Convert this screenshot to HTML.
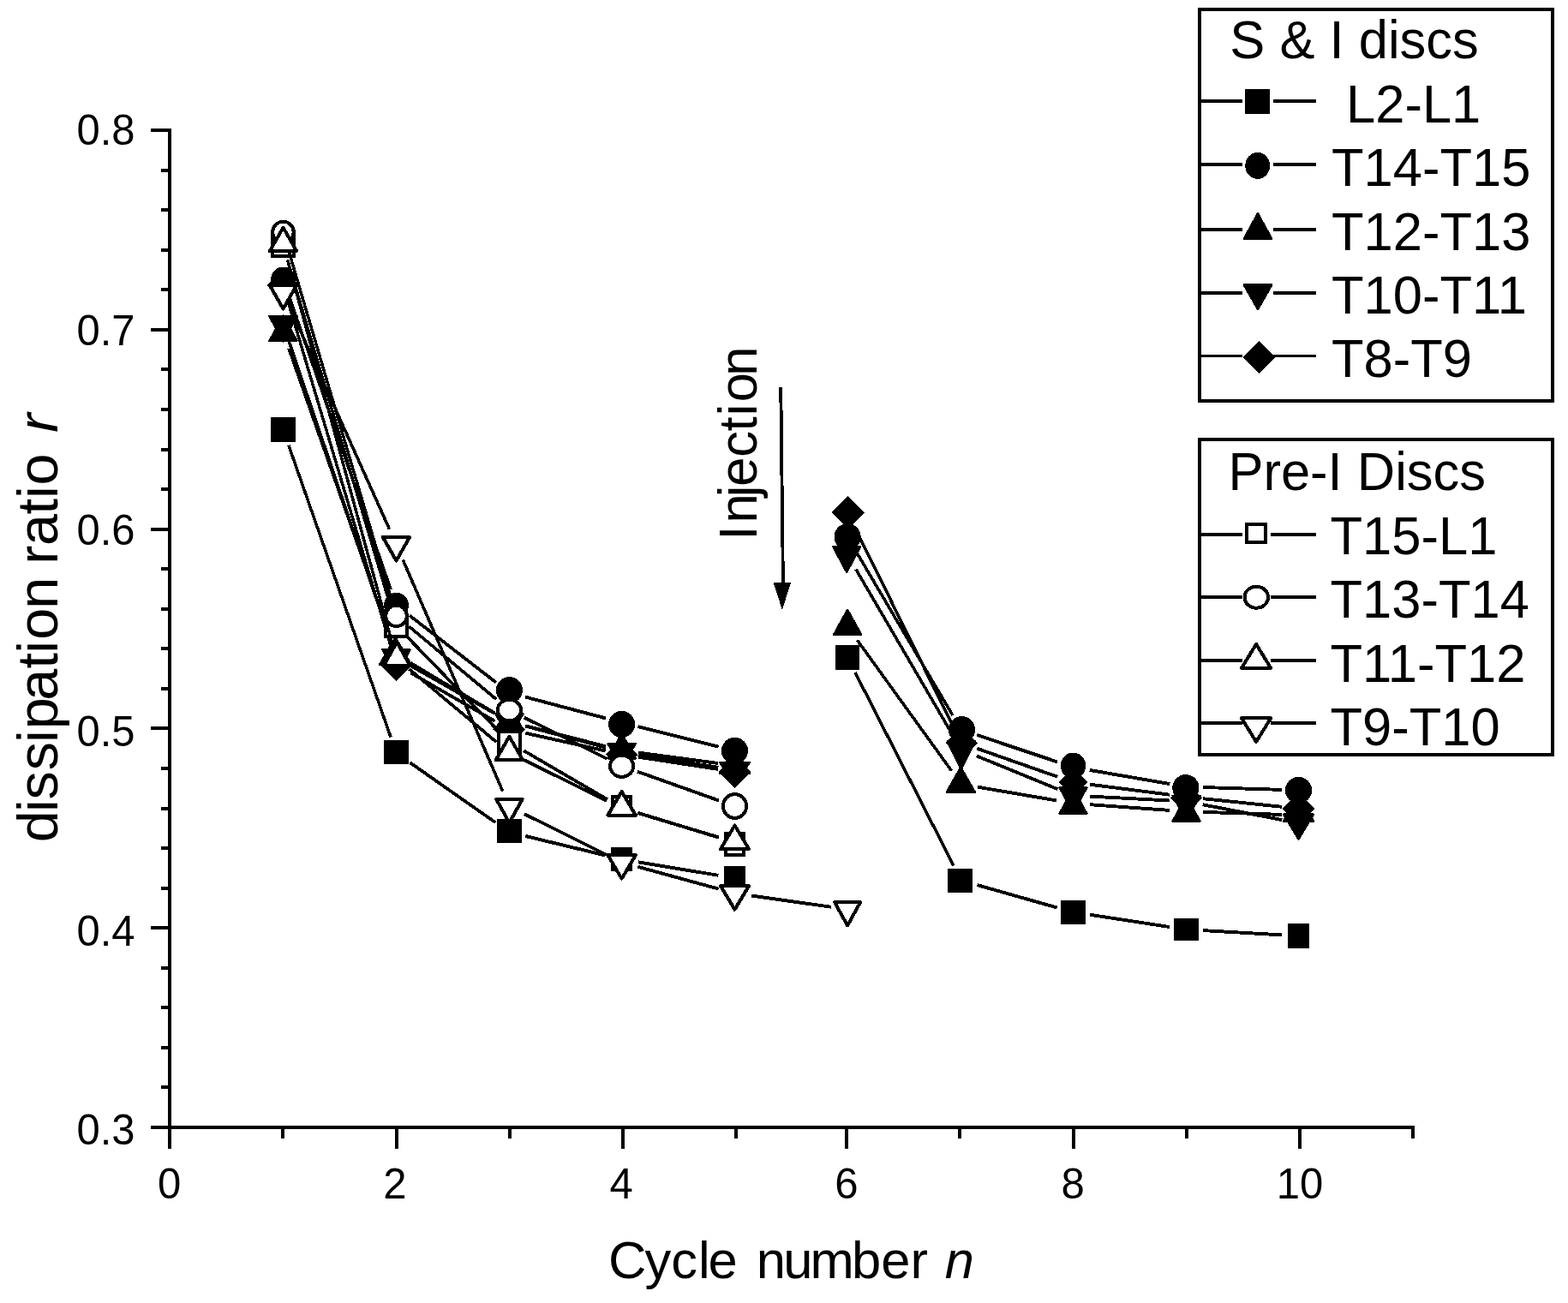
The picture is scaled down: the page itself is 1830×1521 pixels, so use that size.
<!DOCTYPE html>
<html lang="en"><head><meta charset="utf-8"><title>Dissipation ratio versus cycle number</title>
<style>
html,body{margin:0;padding:0;background:#fff}
svg{display:block}
text{font-family:"Liberation Sans",sans-serif;fill:#000}
.ax{stroke:#000;stroke-width:4;fill:none;stroke-linecap:butt}
.ln{stroke:#000;fill:none;stroke-linecap:butt}
.m{fill:#000;stroke:none}
.m .o{fill:#fff;stroke:#000;stroke-width:4}
.m .t{stroke-linejoin:round}
.m .r{stroke:#000;stroke-width:2.4;stroke-linejoin:round}
.tk{font-size:49px}
.lg{font-size:61.5px}
.box{fill:#fff;stroke:#000;stroke-width:4.2}
i,.it{font-style:italic}
</style></head><body>
<svg width="1830" height="1521" viewBox="0 0 1830 1521" shape-rendering="crispEdges" role="img" aria-label="Dissipation ratio r versus cycle number n">
<rect width="1830" height="1521" fill="#fff"/>
<path class="ax" d="M198 150V1341M176 1316H1651M188 1269.4H198M188 1222.9H198M188 1176.3H198M188 1129.8H198M176 1083.2H198M188 1036.6H198M188 990.1H198M188 943.5H198M188 897H198M176 850.4H198M188 803.8H198M188 757.3H198M188 710.7H198M188 664.2H198M176 617.6H198M188 571H198M188 524.5H198M188 477.9H198M188 431.4H198M176 384.8H198M188 338.2H198M188 291.7H198M188 245.1H198M188 198.6H198M176 152H198M329.9 1316V1329M462.6 1316V1341M594.9 1316V1329M726.8 1316V1341M858.7 1316V1329M987.7 1316V1341M1120.1 1316V1329M1253.2 1316V1341M1384.7 1316V1329M1517 1316V1341M1648.9 1316V1329"/>
<g class="tk">
<text x="157.5" y="1336.3" font-size="50.2" textLength="68.1" lengthAdjust="spacingAndGlyphs" text-anchor="end">0.3</text>
<text x="157.5" y="1103.5" font-size="50.2" textLength="68.1" lengthAdjust="spacingAndGlyphs" text-anchor="end">0.4</text>
<text x="157.5" y="870.7" font-size="50.2" textLength="68.1" lengthAdjust="spacingAndGlyphs" text-anchor="end">0.5</text>
<text x="157.5" y="636.4" font-size="50.2" textLength="68.1" lengthAdjust="spacingAndGlyphs" text-anchor="end">0.6</text>
<text x="157.5" y="402.6" font-size="50.2" textLength="68.1" lengthAdjust="spacingAndGlyphs" text-anchor="end">0.7</text>
<text x="157.5" y="169.3" font-size="50.2" textLength="68.1" lengthAdjust="spacingAndGlyphs" text-anchor="end">0.8</text>
</g>
<g class="tk">
<text x="197.7" y="1398.7" font-size="50.2" textLength="27.3" lengthAdjust="spacingAndGlyphs" text-anchor="middle">0</text>
<text x="460.8" y="1398.7" font-size="50.2" textLength="27.3" lengthAdjust="spacingAndGlyphs" text-anchor="middle">2</text>
<text x="725.1" y="1398.7" font-size="50.2" textLength="27.3" lengthAdjust="spacingAndGlyphs" text-anchor="middle">4</text>
<text x="987.9" y="1398.7" font-size="50.2" textLength="27.3" lengthAdjust="spacingAndGlyphs" text-anchor="middle">6</text>
<text x="1252.2" y="1398.7" font-size="50.2" textLength="27.3" lengthAdjust="spacingAndGlyphs" text-anchor="middle">8</text>
<text x="1517" y="1398.7" font-size="50.2" textLength="54.5" lengthAdjust="spacingAndGlyphs" text-anchor="middle">10</text>
</g>
<text class="lg" transform="translate(0 1492) scale(1 0.985)" y="0" x="709.9 752.6 783.2 815 826.6 864.8 882.8 914.3 945.6 994 1028.2 1062.5 1090.4">Cycle number <tspan class="it" x="1102.8">n</tspan></text>
<text transform="translate(67 983.2) rotate(-90)" font-size="66.5" y="0" x="0 35.1 49.6 83.9 116.1 132 165.5 202.8 220.4 236.4 272.4 314.2 324.4 346.3 382.7 401.1 416.8 462.1">dissipation ratio <tspan class="it" x="478.5">r</tspan></text>
<text class="lg" transform="translate(883.2 628) rotate(-90) scale(1 1.03)" x="-2.8 17.5 47.8 60.2 94.3 124.4 142.8 158.7 189.2" y="0">Injection</text>
<path class="m" d="M909.3 452h3.9l2.6 228h7.2l-10.1 32l-10.2 -32h9.3z"/>
<g id="s-L2-L1">
<path class="ln" stroke-width="3.5" d="M336.9 519.9L456.1 860.6"/>
<path class="ln" stroke-width="3.6" d="M998 784.9L1112.9 1010.4"/>
<path class="ln" stroke-width="3.8" d="M478.5 890.2L578.4 960.2"/>
<path class="ln" stroke-width="3.9" d="M613.4 976L706.6 998.5M744.8 1006.3L838.3 1021.8M1140.6 1033.1L1233.7 1059.5M1271.8 1067.7L1365.2 1082.1M1404 1086.1L1496 1091.4"/>
<g class="m">
<rect x="316.2" y="487.2" width="28.5" height="28.5"/>
<rect x="448.2" y="863.5" width="28.5" height="28.5"/>
<rect x="580.2" y="955.9" width="28.5" height="28.5"/>
<rect x="712.9" y="988.9" width="25.5" height="28.4"/>
<rect x="845" y="1011" width="25" height="28"/>
<rect x="974.9" y="753.2" width="28.5" height="28.5"/>
<rect x="1106.4" y="1013.5" width="28.5" height="28.5"/>
<rect x="1238.2" y="1050.5" width="28.5" height="28.5"/>
<rect x="1369.9" y="1072.1" width="29.2" height="25.8"/>
<rect x="1503" y="1078.2" width="25" height="28.7"/>
</g></g>
<g id="s-T14-T15">
<path class="ln" stroke-width="3.5" d="M336.9 344.4L456.1 688.1"/>
<path class="ln" stroke-width="3.6" d="M999 643.5L1111.9 835"/>
<path class="ln" stroke-width="3.8" d="M477.9 718.4L579 796.7"/>
<path class="ln" stroke-width="3.9" d="M613.2 813.6L706.8 838.4M744.5 848.1L838.6 871.7M1140.3 858L1234 889.4M1271.7 898.9L1365.3 915.1M1404 919L1496 921.9"/>
<g class="m">
<ellipse cx="330.5" cy="326" rx="14.3" ry="14.5"/>
<ellipse cx="462.5" cy="706.5" rx="14.3" ry="14.8"/>
<ellipse cx="594.4" cy="805.7" rx="15.6" ry="15.6"/>
<ellipse cx="725.6" cy="845.5" rx="15.6" ry="15.6"/>
<ellipse cx="857.5" cy="876.4" rx="15.6" ry="15.6"/>
<ellipse cx="989.1" cy="626.7" rx="15.6" ry="15.6"/>
<ellipse cx="1122.5" cy="851.8" rx="15.6" ry="15.6"/>
<ellipse cx="1252.5" cy="893.8" rx="14.7" ry="15.2"/>
<ellipse cx="1383.9" cy="919.7" rx="15.6" ry="15.6"/>
<ellipse cx="1515.5" cy="922.5" rx="15.6" ry="15.6"/>
</g></g>
<g id="s-T12-T13">
<path class="ln" stroke-width="3.5" d="M337 406.9L456 745.6"/>
<path class="ln" stroke-width="3.6" d="M1000.5 747.3L1110.4 899.6"/>
<path class="ln" stroke-width="3.8" d="M479.3 774L577.6 832.5"/>
<path class="ln" stroke-width="3.9" d="M613.3 847.3L706.7 871.2M744.9 878.6L838.2 891M1141 918.7L1233.3 934.5M1271.9 939.2L1365.1 945.9M1404 947.9L1496 950.9"/>
<g class="m">
<polygon class="r" points="330.5,368.7 346.6,397.8 314.4,397.8"/>
<polygon class="r" points="461.5,744 479.8,775.6 443.2,775.6"/>
<polygon class="r" points="594.4,822.7 610.5,851.8 578.4,851.8"/>
<polygon class="r" points="725.6,856.2 741.6,885.3 709.6,885.3"/>
<polygon class="r" points="857.5,873.8 874.8,902.9 840.2,902.9"/>
<polygon class="r" points="989.1,711.7 1005.2,740.8 973.1,740.8"/>
<polygon class="r" points="1121.3,895.6 1137.9,924.7 1104.8,924.7"/>
<polygon class="r" points="1252.5,920.7 1268.5,949.8 1236.5,949.8"/>
<polygon class="r" points="1384.5,929.6 1400.6,958.7 1368.5,958.7"/>
<polygon class="r" points="1515.5,929.5 1533,958.6 1498,958.6"/>
</g></g>
<g id="s-T10-T11">
<path class="ln" stroke-width="3.5" d="M336.8 397L456.2 749.1"/>
<path class="ln" stroke-width="3.6" d="M998.9 664.5L1112 858.2"/>
<path class="ln" stroke-width="3.8" d="M479.5 777.2L577.4 832.9M1139.8 882.4L1234.5 921.2"/>
<path class="ln" stroke-width="3.9" d="M613.2 847.5L706.8 872.5M744.8 880.6L838.3 895.9M1272 929.6L1365 934.5M1403.6 939.2L1496.4 957.1"/>
<g class="m">
<polygon class="r" points="330.5,398.3 346.6,369.2 314.4,369.2"/>
<polygon class="r" points="462.5,787.4 478.6,758.3 446.4,758.3"/>
<polygon class="r" points="594.4,862.3 610.5,833.2 578.4,833.2"/>
<polygon class="r" points="725.6,897.3 741.6,868.2 709.6,868.2"/>
<polygon class="r" points="857.5,918.8 874.8,889.7 840.2,889.7"/>
<polygon class="r" points="988.2,668 1004.3,638.1 972.2,638.1"/>
<polygon class="r" points="1121.8,897.5 1137.9,865.5 1105.8,865.5"/>
<polygon class="r" points="1252.5,948.4 1268.5,919.3 1236.5,919.3"/>
<polygon class="r" points="1384.5,957.8 1400.6,928.7 1368.5,928.7"/>
<polygon class="r" points="1515.5,979.7 1533,950.6 1498,950.6"/>
</g></g>
<g id="s-T8-T9">
<path class="ln" stroke-width="3.5" d="M336.1 351.7L456.9 757"/>
<path class="ln" stroke-width="3.6" d="M997.7 615.8L1113.2 849.7"/>
<path class="ln" stroke-width="3.8" d="M479.4 785.4L577.5 841.8"/>
<path class="ln" stroke-width="3.9" d="M613.4 855.7L706.6 876.5M744.9 883.7L838.2 897.9M1140.2 873.7L1234.1 906.7M1271.8 915.7L1365.2 927.7M1403.9 932.2L1496.1 941.8"/>
<g class="m">
<polygon points="330.5,314.1 349.4,333 330.5,351.9 311.6,333"/>
<polygon points="462.5,756.8 481.4,775.7 462.5,794.6 443.6,775.7"/>
<polygon points="594.4,832.6 613.3,851.5 594.4,870.4 575.5,851.5"/>
<polygon points="725.6,861.8 744.5,880.7 725.6,899.6 706.7,880.7"/>
<polygon points="857.5,882 876.4,900.9 857.5,919.8 838.6,900.9"/>
<polygon points="989.9,579.1 1009.1,598.3 989.9,617.5 970.7,598.3"/>
<polygon points="1122.2,848.3 1141.1,867.2 1122.2,886.1 1103.3,867.2"/>
<polygon points="1252.5,896 1269.7,913.2 1252.5,930.4 1235.3,913.2"/>
<polygon points="1384.5,912.6 1403.4,931.5 1384.5,950.4 1365.6,931.5"/>
<polygon points="1515.5,924.9 1534.4,943.8 1515.5,962.7 1496.6,943.8"/>
</g></g>
<g id="s-T15-L1">
<path class="ln" stroke-width="3.5" d="M336.1 305.7L456.9 711.6"/>
<path class="ln" stroke-width="3.7" d="M476.1 744.3L580.8 852.4"/>
<path class="ln" stroke-width="3.8" d="M611.2 876.2L708.8 933.2"/>
<path class="ln" stroke-width="3.9" d="M744.2 948.7L838.9 977.7"/>
<g class="m">
<rect class="o" x="318.2" y="274.8" width="24.5" height="24.5"/>
<rect class="o" x="450.2" y="718" width="24.5" height="24.5"/>
<rect class="o" x="582.2" y="854.1" width="24.5" height="24.5"/>
<rect class="o" x="715.1" y="930" width="21" height="21.5"/>
<rect class="o" x="847" y="973" width="21" height="25"/>
</g></g>
<g id="s-T13-T14">
<path class="ln" stroke-width="3.5" d="M336 289.7L457 700.2"/>
<path class="ln" stroke-width="3.7" d="M477.5 731.4L579.4 816.4"/>
<path class="ln" stroke-width="3.8" d="M611.9 837.6L708.1 885.5"/>
<path class="ln" stroke-width="3.9" d="M744 900.7L839.1 934.5"/>
<g class="m">
<ellipse class="o" cx="330.5" cy="271" rx="12.3" ry="12.3"/>
<ellipse class="o" cx="462.5" cy="718.9" rx="12.4" ry="12.2"/>
<ellipse class="o" cx="594.4" cy="828.9" rx="13.6" ry="12.3"/>
<ellipse class="o" cx="725.6" cy="894.2" rx="13.6" ry="12.6"/>
<ellipse class="o" cx="857.5" cy="941" rx="13.6" ry="13.8"/>
</g></g>
<g id="s-T11-T12">
<path class="ln" stroke-width="3.5" d="M335.6 303.4L457.4 749.7"/>
<path class="ln" stroke-width="3.7" d="M477.5 781L579.4 866.2"/>
<path class="ln" stroke-width="3.8" d="M611.9 887.3L708.1 934.8"/>
<path class="ln" stroke-width="3.9" d="M744.3 949L838.8 977.4"/>
<g class="m">
<polygon class="o t" points="330.5,265.6 346.2,293.1 314.8,293.1"/>
<polygon class="o t" points="463.2,749.5 478.4,777 447.9,777"/>
<polygon class="o t" points="594.4,859.7 610.2,887.2 578.7,887.2"/>
<polygon class="o t" points="725.6,924.2 741.9,951.7 709.3,951.7"/>
<polygon class="o t" points="857.5,963.5 874,991 841,991"/>
</g></g>
<g id="s-T9-T10">
<path class="ln" stroke-width="3.6" d="M338.5 359.3L454.5 617.7M470.2 653.4L586.7 923.5"/>
<path class="ln" stroke-width="3.8" d="M611.9 950.1L708.1 998"/>
<path class="ln" stroke-width="3.9" d="M744.4 1011.8L838.7 1037.6M876.8 1045.5L969.8 1058.7"/>
<g class="m">
<polygon class="o t" points="330.5,360.5 346.2,333 314.8,333"/>
<polygon class="o t" points="462.5,654.5 478.2,627 446.8,627"/>
<polygon class="o t" points="594.4,960.4 609.7,932.9 579.2,932.9"/>
<polygon class="o t" points="725.6,1025.7 741.9,998.2 709.4,998.2"/>
<polygon class="o t" points="857.5,1061.7 874,1034.2 841,1034.2"/>
<polygon class="o t" points="989.1,1080.5 1004.2,1053 974,1053"/>
</g></g>
<rect class="box" x="1400.1" y="11.1" width="412.2" height="456.7"/>
<text x="1435.3" y="68" font-size="63.4" textLength="290.5" lengthAdjust="spacingAndGlyphs">S &amp; I discs</text>
<path class="ln" stroke-width="3.9" d="M1402 118H1449.6M1486.2 118H1536"/>
<g class="m"><rect x="1453" y="104" width="28.9" height="29"/></g>
<text x="1571" y="142.5" font-size="63.4" textLength="157.3" lengthAdjust="spacingAndGlyphs">L2-L1</text>
<path class="ln" stroke-width="3.9" d="M1402 192.2H1449.6M1486.2 192.2H1536"/>
<g class="m"><ellipse cx="1467.7" cy="193.4" rx="14.4" ry="15.5"/></g>
<text x="1554" y="216.5" font-size="63.4" textLength="232.4" lengthAdjust="spacingAndGlyphs">T14-T15</text>
<path class="ln" stroke-width="3.9" d="M1402 268.3H1449.6M1486.2 268.3H1536"/>
<g class="m"><polygon class="r" points="1468,249.2 1484.3,278.8 1451.7,278.8"/></g>
<text x="1554" y="291.5" font-size="63.4" textLength="232.4" lengthAdjust="spacingAndGlyphs">T12-T13</text>
<path class="ln" stroke-width="3.9" d="M1402 341.9H1449.6M1486.2 341.9H1536"/>
<g class="m"><polygon class="r" points="1468,361.1 1484.3,332.5 1451.7,332.5"/></g>
<text x="1554" y="365.7" font-size="63.4" textLength="227.9" lengthAdjust="spacingAndGlyphs">T10-T11</text>
<path class="ln" stroke-width="3.9" d="M1402 415.5H1449.6M1486.2 415.5H1536"/>
<g class="m"><polygon points="1469.6,398.4 1488.6,417.4 1469.6,436.4 1450.6,417.4"/></g>
<text x="1554" y="439.9" font-size="63.4" textLength="164" lengthAdjust="spacingAndGlyphs">T8-T9</text>
<rect class="box" x="1400.1" y="513.2" width="412.2" height="367.6"/>
<text x="1433.4" y="572.2" font-size="63.4" textLength="300.7" lengthAdjust="spacingAndGlyphs">Pre-I Discs</text>
<path class="ln" stroke-width="3.9" d="M1402 624H1449.6M1483.3 624H1536"/>
<g class="m"><rect class="o" x="1455" y="612.1" width="22" height="20.8"/></g>
<text x="1552.5" y="646.8" font-size="63.4" textLength="194.9" lengthAdjust="spacingAndGlyphs">T15-L1</text>
<path class="ln" stroke-width="3.9" d="M1402 696.8H1449.6M1483.3 696.8H1536"/>
<g class="m"><ellipse class="o" cx="1466.3" cy="697.2" rx="13.7" ry="12.5"/></g>
<text x="1552.5" y="721.3" font-size="63.4" textLength="232.4" lengthAdjust="spacingAndGlyphs">T13-T14</text>
<path class="ln" stroke-width="3.9" d="M1402 770.9H1449.6M1483.3 770.9H1536"/>
<g class="m"><polygon class="o t" points="1466.1,751.9 1483.2,779.9 1449,779.9"/></g>
<text x="1552.5" y="795.8" font-size="63.4" textLength="227.9" lengthAdjust="spacingAndGlyphs">T11-T12</text>
<path class="ln" stroke-width="3.9" d="M1402 843.9H1449.6M1483.3 843.9H1536"/>
<g class="m"><polygon class="o t" points="1466.1,865.9 1483.2,838.3 1449,838.3"/></g>
<text x="1552.5" y="869.9" font-size="63.4" textLength="198.2" lengthAdjust="spacingAndGlyphs">T9-T10</text>
</svg>
</body></html>
